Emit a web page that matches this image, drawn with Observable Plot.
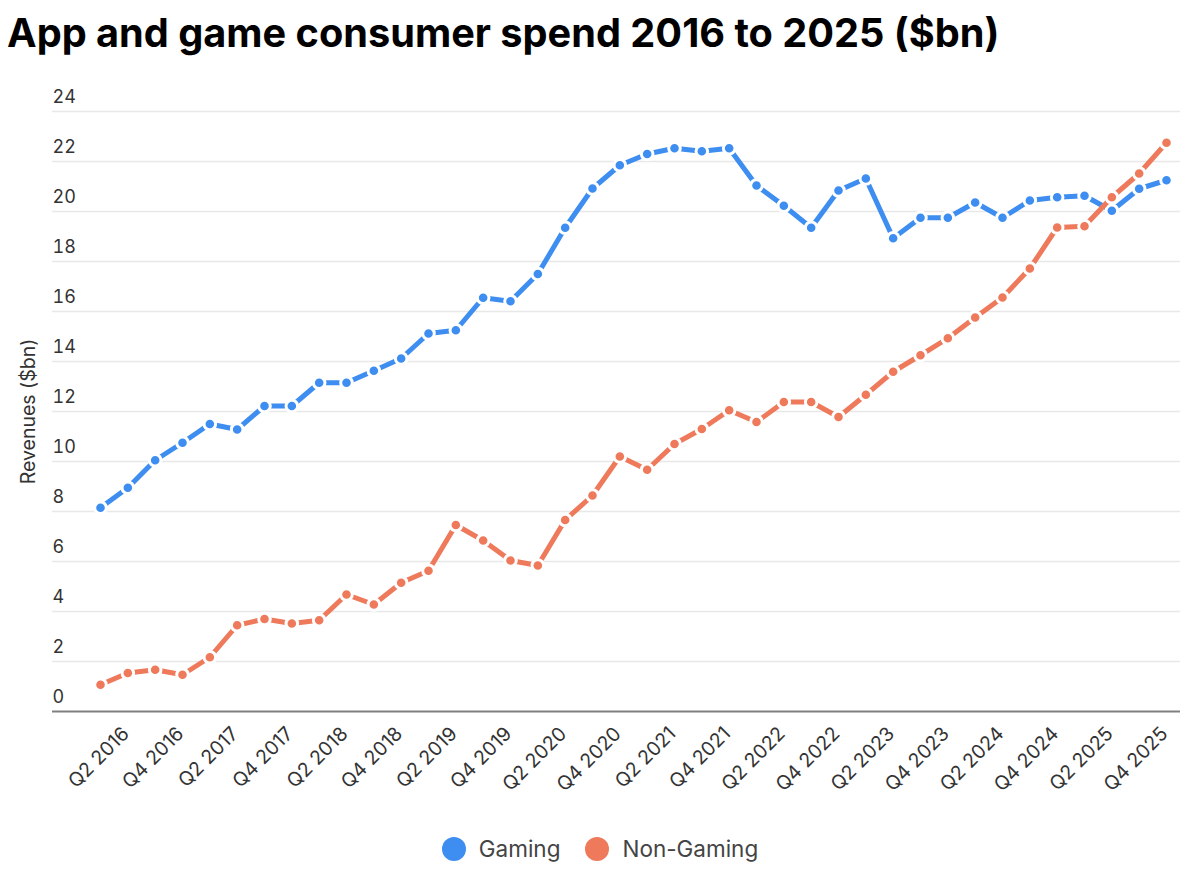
<!DOCTYPE html>
<html>
<head>
<meta charset="utf-8">
<script src="https://cdn.jsdelivr.net/npm/d3@7"></script>
<script src="https://cdn.jsdelivr.net/npm/@observablehq/plot@0.6"></script>
<style>
  html, body { margin: 0; padding: 0; background: #fff; }
  body { width: 1200px; height: 883px; position: relative; overflow: hidden; font-family: Inter, "Noto Sans", sans-serif; }
  #title { position: absolute; left: 7px; top: 13px; font-size: 39.7px; font-weight: 700; color: #000; line-height: 40px; white-space: nowrap; }
  #chart { position: absolute; left: 0; top: 60px; }
  #legend { position: absolute; left: 0; width: 1200px; top: 834px; display: flex; justify-content: center; gap: 25px; font-size: 22.5px; color: #444; }
  .item { display: flex; align-items: center; gap: 13px; line-height: 30px; }
  .sw { width: 24px; height: 24px; border-radius: 50%; display: inline-block; }
</style>
</head>
<body>
<div id="title">App and game consumer spend 2016 to 2025 ($bn)</div>
<div id="chart"></div>
<div id="legend"></div>
<script>
const quarters = [
  "Q1 2016","Q2 2016","Q3 2016","Q4 2016",
  "Q1 2017","Q2 2017","Q3 2017","Q4 2017",
  "Q1 2018","Q2 2018","Q3 2018","Q4 2018",
  "Q1 2019","Q2 2019","Q3 2019","Q4 2019",
  "Q1 2020","Q2 2020","Q3 2020","Q4 2020",
  "Q1 2021","Q2 2021","Q3 2021","Q4 2021",
  "Q1 2022","Q2 2022","Q3 2022","Q4 2022",
  "Q1 2023","Q2 2023","Q3 2023","Q4 2023",
  "Q1 2024","Q2 2024","Q3 2024","Q4 2024",
  "Q1 2025","Q2 2025","Q3 2025","Q4 2025"
];
const tickLabels = [
  "Q2 2016","Q4 2016","Q2 2017","Q4 2017","Q2 2018","Q4 2018","Q2 2019","Q4 2019",
  "Q2 2020","Q4 2020","Q2 2021","Q4 2021","Q2 2022","Q4 2022","Q2 2023","Q4 2023",
  "Q2 2024","Q4 2024","Q2 2025","Q4 2025"
];
const gaming = [
  8.15, 8.95, 10.05, 10.75, 11.5, 11.28, 12.22, 12.22,
  13.15, 13.15, 13.63, 14.12, 15.12, 15.25, 16.55, 16.41,
  17.5, 19.35, 20.92, 21.85, 22.3, 22.53, 22.41, 22.53,
  21.04, 20.23, 19.35, 20.84, 21.32, 18.93, 19.75, 19.75,
  20.36, 19.75, 20.44, 20.57, 20.63, 20.03, 20.91, 21.25
];
const nonGaming = [
  1.07, 1.54, 1.67, 1.47, 2.17, 3.45, 3.7, 3.52,
  3.65, 4.68, 4.28, 5.15, 5.63, 7.46, 6.84, 6.04,
  5.84, 7.66, 8.64, 10.2, 9.67, 10.7, 11.3, 12.05,
  11.58, 12.38, 12.38, 11.78, 12.67, 13.59, 14.25, 14.93,
  15.76, 16.56, 17.72, 19.36, 19.41, 20.57, 21.52, 22.75
];
const seriesNames = ["Gaming", "Non-Gaming"];
const seriesColors = ["#3d8ef0", "#ee7a5b"];
const yTicks = [0, 2, 4, 6, 8, 10, 12, 14, 16, 18, 20, 22, 24];

const gData = quarters.map((q, i) => ({q, v: gaming[i], s: seriesNames[0]}));
const nData = quarters.map((q, i) => ({q, v: nonGaming[i], s: seriesNames[1]}));

const chart = Plot.plot({
  width: 1200,
  height: 740,
  marginLeft: 52,
  marginRight: 20,
  marginTop: 51,
  marginBottom: 89,
  style: {fontFamily: "Inter, 'Noto Sans', sans-serif", color: "#333", background: "#fff"},
  x: {type: "point", domain: quarters, range: [100, 1166], padding: 0, round: false},
  y: {domain: [0, 24]},
  color: {domain: seriesNames, range: seriesColors},
  marks: [
    Plot.ruleY(yTicks.filter(d => d > 0), {stroke: "#e8e8e8", strokeWidth: 1.5}),
    Plot.ruleY([0], {stroke: "#808080", strokeWidth: 2}),
    Plot.axisY({ticks: yTicks, tickSize: 0, tickPadding: 0, textAnchor: "start", dy: -14, fontSize: 18, label: null}),
    Plot.axisX({ticks: tickLabels, tickSize: 0, tickPadding: 19, tickRotate: -45, dx: -2, fontSize: 19.5, label: null}),
    Plot.text(["Revenues ($bn)"], {frameAnchor: "left", textAnchor: "middle", dx: -24, rotate: -90, fontSize: 19.5, fill: "#333", text: d => d}),
    Plot.line(gData, {x: "q", y: "v", stroke: "s", strokeWidth: 5}),
    Plot.dot(gData, {x: "q", y: "v", fill: "s", r: 5.8, stroke: "#fff", strokeWidth: 3}),
    Plot.line(nData, {x: "q", y: "v", stroke: "s", strokeWidth: 5}),
    Plot.dot(nData, {x: "q", y: "v", fill: "s", r: 5.8, stroke: "#fff", strokeWidth: 3})
  ]
});
document.getElementById("chart").appendChild(chart);

const legend = document.getElementById("legend");
seriesNames.forEach((name, i) => {
  const item = document.createElement("div");
  item.className = "item";
  const sw = document.createElement("span");
  sw.className = "sw";
  sw.style.background = seriesColors[i];
  const label = document.createElement("span");
  label.textContent = name;
  item.appendChild(sw);
  item.appendChild(label);
  legend.appendChild(item);
});
</script>
</body>
</html>
